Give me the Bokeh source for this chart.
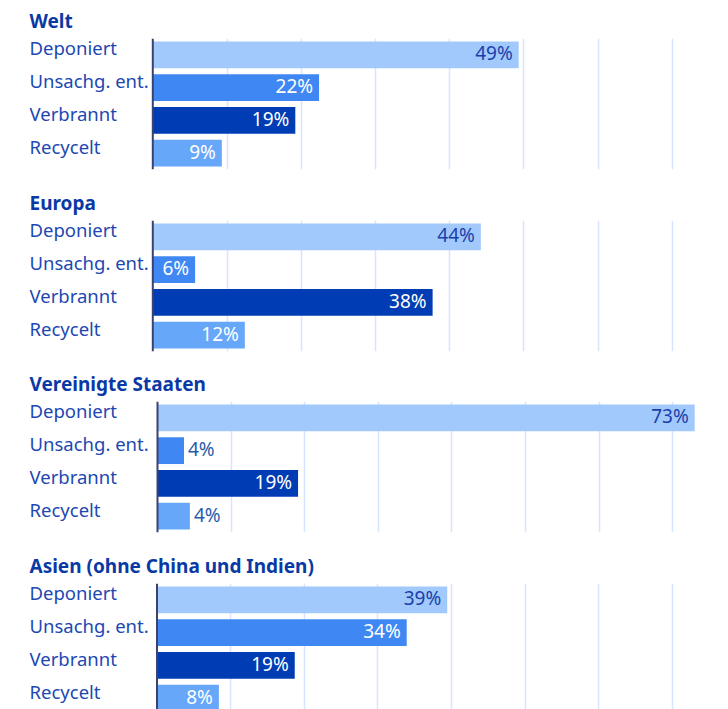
from bokeh.plotting import figure
from bokeh.layouts import column
from bokeh.models import ColumnDataSource, FixedTicker, Span, Range1d
from bokeh.core.properties import value
from bokeh.embed import file_html
from bokeh.resources import INLINE

# ---------------- data ----------------
regions = ["Welt", "Europa", "Vereinigte Staaten", "Asien (ohne China und Indien)"]
categories = ["Deponiert", "Unsachg. ent.", "Verbrannt", "Recycelt"]
welt = [49.3, 22.4, 19.2, 9.3]
europa = [44.2, 5.7, 37.7, 12.4]
usa = [73.0, 3.6, 19.1, 4.4]
asien = [39.4, 33.9, 18.7, 8.4]
grid_ticks = [10, 20, 30, 40, 50, 60, 70]

# ---------------- style ----------------
bar_colors = ["#a2c9fc", "#3f88f3", "#003cb3", "#66a7fa"]
inside_text_colors = ["#1a3fab", "#ffffff", "#ffffff", "#ffffff"]
outside_text_color = "#285ca8"
label_color = "#1c48b2"
title_color = "#0a39a6"
grid_color = "#d6e6fc"
axis_color = "#3c4270"
FONT = "Noto Sans"

FIG_W = 711
FRAME_LEFT = 29
BORDER_RIGHT = 5
FRAME_W = FIG_W - FRAME_LEFT - BORDER_RIGHT
X_END = 74.6
axis_px = [123.3, 123.3, 128.0, 127.5]   # zero-line offset from frame left
UNIT_PX = 32.75
BAR_H = 0.82
TOTAL_H = 709
BORDER_TOP = 38
FRAME_H = 131
borders_bottom = [13, 12, 13, 0]

series = [welt, europa, usa, asien]
n = len(categories)
ys = [n - 1 - i for i in range(n)]

figs = []
used_h = 0
for k, (region, vals) in enumerate(zip(regions, series)):
    last = k == len(regions) - 1
    border_bottom = borders_bottom[k]
    fig_h = TOTAL_H - used_h if last else BORDER_TOP + FRAME_H + border_bottom
    used_h += fig_h
    frame_h = fig_h - BORDER_TOP - border_bottom
    y_top = n - 0.5
    y_bottom = y_top - frame_h / UNIT_PX

    s = (FRAME_W - axis_px[k]) / X_END
    x_start = -axis_px[k] / s

    p = figure(width=FIG_W, height=fig_h, output_backend="svg", toolbar_location=None,
               x_range=Range1d(x_start, X_END), y_range=Range1d(y_bottom, y_top),
               min_border_left=FRAME_LEFT, min_border_right=BORDER_RIGHT,
               min_border_top=BORDER_TOP, min_border_bottom=border_bottom,
               title=region)
    p.title.text_font = FONT
    p.title.text_font_size = "19px"
    p.title.text_font_style = "bold"
    p.title.text_color = title_color
    p.title.align = "left"
    p.title.offset = 0
    p.outline_line_color = None
    p.xaxis.visible = False
    p.yaxis.visible = False
    p.ygrid.visible = False
    p.xgrid.ticker = FixedTicker(ticks=grid_ticks)
    p.xgrid.grid_line_color = grid_color
    p.xgrid.grid_line_width = 1.5

    src = ColumnDataSource(dict(y=ys, v=vals, c=bar_colors, cat=categories,
                                xs=[x_start] * n))
    p.hbar(y="y", left=0, right="v", height=BAR_H, color="c", source=src, line_color=None)

    p.add_layout(Span(location=0, dimension="height", line_color=axis_color, line_width=2))

    p.text(x="xs", y="y", text="cat", source=src, text_font=value(FONT),
           text_font_size="18.5px", text_color=label_color, text_align="left",
           text_baseline="alphabetic", y_offset=-7)

    ins = dict(y=[], v=[], t=[], c=[])
    outs = dict(y=[], v=[], t=[])
    for i, v in enumerate(vals):
        t = f"{v:.0f}%"
        if v >= 5:
            ins["y"].append(ys[i]); ins["v"].append(v); ins["t"].append(t)
            ins["c"].append(inside_text_colors[i])
        else:
            outs["y"].append(ys[i]); outs["v"].append(v); outs["t"].append(t)
    p.text(x="v", y="y", text="t", text_color="c", source=ColumnDataSource(ins),
           text_font=value(FONT), text_font_size="19px", text_align="right",
           text_baseline="alphabetic", x_offset=-6, y_offset=-1.5)
    p.text(x="v", y="y", text="t", text_color=outside_text_color, source=ColumnDataSource(outs),
           text_font=value(FONT), text_font_size="19px", text_align="left",
           text_baseline="alphabetic", x_offset=4, y_offset=-1.5)
    figs.append(p)

layout = column(*figs, spacing=0)
open("out.html", "w").write(file_html(layout, INLINE))
